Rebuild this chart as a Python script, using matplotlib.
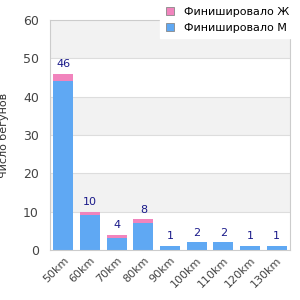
import matplotlib
matplotlib.use("Agg")
import matplotlib.pyplot as plt
import numpy as np
from matplotlib.patches import Patch

categories = ["50km", "60km", "70km", "80km", "90km", "100km", "110km", "120km", "130km"]
men = [44, 9, 3, 7, 1, 2, 2, 1, 1]
women = [2, 1, 1, 1, 0, 0, 0, 0, 0]
totals = [m + w for m, w in zip(men, women)]

blue = "#5fa8f3"
pink = "#f184bd"

fig = plt.figure(figsize=(3, 3), dpi=100)
ax = fig.add_axes([0.167, 0.167, 0.8, 0.766])
x = np.arange(len(categories))
for lo in (10, 30, 50):
    ax.axhspan(lo, lo + 10, color="#f2f2f2", zorder=0, lw=0)
for y in range(10, 60, 10):
    ax.axhline(y, color="#dddddd", lw=0.8, zorder=0.5)
bm = ax.bar(x, men, width=0.75, color=blue, label="Финишировало М", zorder=2)
bw = ax.bar(x, women, width=0.75, bottom=men, color=pink, label="Финишировало Ж", zorder=2)
for xi, t in zip(x, totals):
    ax.text(xi, t + 1.2, str(t), ha="center", va="bottom", fontsize=8, color="#1a1a8a")
ax.set_xlim(-0.5, len(categories) - 0.5)
ax.set_ylim(0, 60)
ax.set_yticks(range(0, 61, 10))
ax.set_xticks(x)
ax.set_xticklabels(categories, rotation=45, ha="right", rotation_mode="anchor", fontsize=8, color="#444444")
ax.tick_params(axis="y", labelsize=9, colors="#444444", length=0, pad=8)
ax.tick_params(axis="x", length=0, pad=4)
for s in ax.spines.values():
    s.set_color("#cccccc")
ax.set_ylabel("Число бегунов", fontsize=8, color="#333333")
ax.yaxis.set_label_coords(-0.17, 0.5)

hw = Patch(facecolor=pink, edgecolor="#888888", lw=0.6, label="Финишировало Ж")
hm = Patch(facecolor=blue, edgecolor="#888888", lw=0.6, label="Финишировало М")
leg = fig.legend(handles=[hw, hm], loc="upper right", bbox_to_anchor=(0.985, 1.0),
                 frameon=True, fontsize=8, handlelength=0.7, handleheight=0.7,
                 borderaxespad=0.1, labelspacing=0.55, handletextpad=0.9, fancybox=False,
                 borderpad=0.5)
leg.get_frame().set_edgecolor("white")
leg.get_frame().set_facecolor("white")
leg.get_frame().set_alpha(1)
leg.set_zorder(10)
fig.savefig("out.png", dpi=100)
